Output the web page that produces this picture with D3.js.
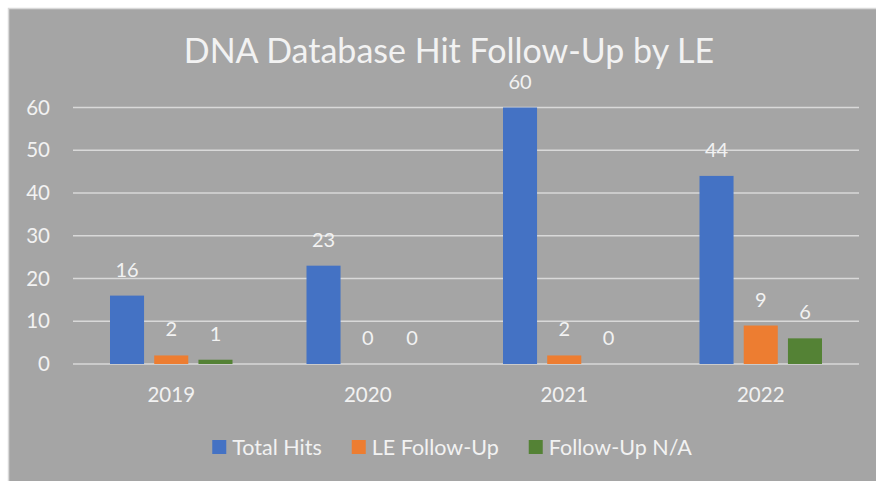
<html>
<script src='https://d3js.org/d3.v7.min.js'></script>
<style>
body {margin:0; background:white;}
text {font-family: Lato, 'Open Sans', sans-serif; fill: #f2f2f2;}
</style>
<body onload='init()'>
<svg width=876 height=481></svg>
<script>
const years = ['2019', '2020', '2021', '2022'];
const seriesNames = ['Total Hits', 'LE Follow-Up', 'Follow-Up N/A'];
const totalHits = [16, 23, 60, 44];
const leFollowUp = [2, 0, 2, 9];
const followUpNA = [1, 0, 0, 6];
const colors = ['#4472C4', '#ED7D31', '#548235'];
const yTicks = [0, 10, 20, 30, 40, 50, 60];

function init() {
  const svg = d3.select('svg');
  const allSeries = [totalHits, leFollowUp, followUpNA];

  // chart background
  svg.append('rect')
    .attr('x', 8.5).attr('y', 8.5).attr('width', 880).attr('height', 480)
    .attr('fill', '#a5a5a5').attr('stroke', '#d9d9d9').attr('stroke-width', 1.5);

  svg.append('text')
    .attr('x', 449).attr('y', 63)
    .attr('text-anchor', 'middle')
    .style('font-size', '34px')
    .text('DNA Database Hit Follow-Up by LE');

  const x0 = d3.scaleBand().domain(years).range([73, 859]);
  const x1 = d3.scaleBand().domain(seriesNames)
    .range([37, x0.bandwidth() - 37]).paddingInner(0.23);
  const y = d3.scaleLinear().domain([0, 60]).range([364, 107.5]);

  // gridlines
  svg.append('g').selectAll('line')
    .data(yTicks).enter().append('line')
    .attr('x1', 73).attr('x2', 859)
    .attr('y1', d => y(d)).attr('y2', d => y(d))
    .attr('stroke', '#d9d9d9').attr('stroke-width', 1.5);

  // y labels
  svg.append('g').selectAll('text')
    .data(yTicks).enter().append('text')
    .attr('x', 50).attr('y', d => y(d) + 7)
    .attr('text-anchor', 'end')
    .style('font-size', '20.5px')
    .text(d => d);

  // x labels
  svg.append('g').selectAll('text')
    .data(years).enter().append('text')
    .attr('x', d => x0(d) + x0.bandwidth() / 2)
    .attr('y', 402)
    .attr('text-anchor', 'middle')
    .style('font-size', '20.5px')
    .text(d => d);

  const rows = [];
  years.forEach(function(yr, i) {
    seriesNames.forEach(function(s, j) {
      rows.push({year: yr, series: s, value: allSeries[j][i], color: colors[j]});
    });
  });

  const g = svg.append('g');
  g.selectAll('rect')
    .data(rows).enter().append('rect')
    .attr('x', d => x0(d.year) + x1(d.series))
    .attr('y', d => y(d.value))
    .attr('width', x1.bandwidth())
    .attr('height', d => y(0) - y(d.value))
    .attr('fill', d => d.color);

  g.selectAll('text')
    .data(rows).enter().append('text')
    .attr('x', d => x0(d.year) + x1(d.series) + x1.bandwidth() / 2)
    .attr('y', d => y(d.value) - 19)
    .attr('text-anchor', 'middle')
    .style('font-size', '20px')
    .text(d => d.value);

  // legend
  const legend = svg.append('g');
  let lx = 0;
  seriesNames.forEach(function(s, j) {
    const item = legend.append('g').attr('transform', 'translate(' + lx + ',0)');
    item.append('rect').attr('x', 0).attr('y', -7).attr('width', 14).attr('height', 14)
      .attr('fill', colors[j]);
    const t = item.append('text').attr('x', 20).attr('y', 7.5)
      .style('font-size', '21.5px').text(s);
    lx += 20 + t.node().getComputedTextLength() + 30;
  });
  const lw = lx - 30;
  legend.attr('transform', 'translate(' + (452 - lw / 2) + ',447)');
}
</script>
</body>
</html>
